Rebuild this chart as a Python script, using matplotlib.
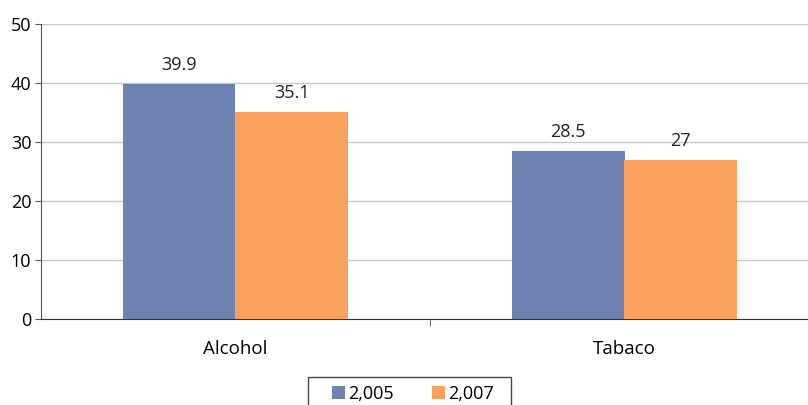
import matplotlib.pyplot as plt
from matplotlib.patches import Rectangle
import numpy as np

plt.rcParams['font.family'] = ['Open Sans', 'DejaVu Sans']

categories = ['Alcohol', 'Tabaco']
years = ['2,005', '2,007']
values_2005 = [39.9, 28.5]
values_2007 = [35.1, 27]
colors = ['#6f83b0', '#f8a25e']

fig = plt.figure(figsize=(8.08, 4.05), dpi=100)
ax = fig.add_axes([41 / 808, 86 / 405, 778 / 808, 295 / 405])

x = np.arange(len(categories))
w = 0.29
b1 = ax.bar(x - w / 2, values_2005, w, color=colors[0], label=years[0], zorder=3)
b2 = ax.bar(x + w / 2, values_2007, w, color=colors[1], label=years[1], zorder=3)

for bars, vals in ((b1, values_2005), (b2, values_2007)):
    for rect, v in zip(bars, vals):
        ax.text(rect.get_x() + rect.get_width() / 2, v + 1.7, f'{v:g}',
                ha='center', va='bottom', fontsize=13, color='#222222')

ax.set_xlim(-0.5, 1.5)
ax.set_ylim(0, 50)
ax.set_yticks(range(0, 51, 10))
ax.yaxis.grid(True, color='#c8c8c8', linewidth=1, zorder=0)

ax.set_xticks(x)
ax.set_xticklabels(categories, fontsize=13.5)
ax.tick_params(axis='x', length=0, pad=15)
ax.set_xticks([0.5], minor=True)
ax.tick_params(axis='x', which='minor', length=5, direction='out', color='#555555')
ax.tick_params(axis='y', length=4, direction='out', color='#555555', labelsize=13, pad=3)

for s in ('top', 'right'):
    ax.spines[s].set_visible(False)
ax.spines['left'].set_color('#555555')
ax.spines['bottom'].set_color('#333333')

# legend box runs off the bottom edge
fig.patches.append(Rectangle((308 / 808, -0.05), 203 / 808, 0.05 + 28 / 405,
                             transform=fig.transFigure, facecolor='none',
                             edgecolor='#444444', linewidth=1))
fig.legend(loc='center left', bbox_to_anchor=(332 / 808, 1 - 394 / 405),
           ncol=2, fontsize=13, frameon=False,
           handlelength=0.72, handleheight=0.72, handletextpad=0.17,
           columnspacing=2.1, borderpad=0, borderaxespad=0)

fig.savefig('out.png', dpi=100)
